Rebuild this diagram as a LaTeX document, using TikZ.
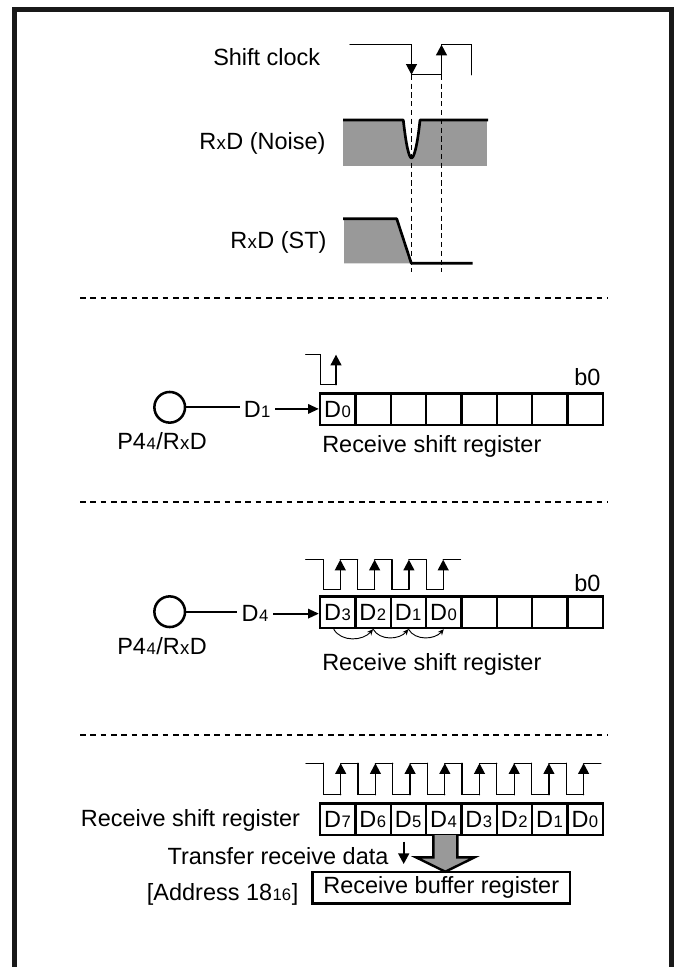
\documentclass[tikz,border=0pt]{standalone}
\usepackage{fontspec}
\setmainfont{Liberation Sans}
\usetikzlibrary{arrows.meta}
\newcommand{\smallch}[1]{\kern0.4pt{\fontsize{12.5}{13}\selectfont #1}\kern0.4pt}
\newcommand{\smallx}{\kern0.3pt{\fontsize{14}{14}\selectfont x}\kern0.3pt}
\tikzset{
  lab/.style={inner sep=0pt,anchor=base west,font=\fontsize{17.6}{20}\selectfont},
  dlab/.style={lab,inner xsep=3pt},
  cell/.style={draw,line width=1.8pt,inner sep=0pt,minimum width=26.5pt,minimum height=23.6pt,font=\fontsize{17.6}{20}\selectfont},
  clk/.style={line width=1pt,line cap=round,line join=miter},
  clkup/.style={clk,-{Triangle[length=8pt,width=8.2pt]}},
  wave/.style={line width=2pt,line join=round},
  sep/.style={line width=1.5pt,dash pattern=on 4.3pt off 3.45pt},
  guide/.style={line width=0.9pt,dash pattern=on 3.9pt off 2.7pt},
  pin/.style={draw,circle,line width=1.9pt,minimum size=23pt,inner sep=0pt},
  wire/.style={line width=1.4pt},
  hop/.style={line width=0.7pt,-{Stealth[length=4.5pt,width=4pt]}},
}
\begin{document}
\begin{tikzpicture}[x=0.75pt,y=-0.75pt]
\useasboundingbox (0,0) rectangle (676,967);
% Frame
\draw[line width=3.75pt,color=black!90] (14.8,967) -- (14.8,9.8) -- (671.3,9.8) -- (671.3,967);
% Timing
\node[lab] (shiftclk) at (213,65.7) {Shift clock};
\node[lab] (rxdnoise) at (199,149) {R\smallx D (Noise)};
\node[lab] (rxdst) at (230,248) {R\smallx D (ST)};
\fill[black!40] (343,120) rectangle (487,165.7);
\fill[white] (403.3,120) .. controls (406,145) and (409,158) .. (411.5,158) .. controls (414,158) and (417.5,145) .. (420,120) -- cycle;
\draw[wave] (343,120) -- (403.3,120) .. controls (406,145) and (409,158) .. (411.5,158) .. controls (414,158) and (417.5,145) .. (420,120) -- (488,120);
\fill[black!40] (344,218.7) -- (396.7,218.7) -- (411.3,263.3) -- (344,263.3) -- cycle;
\draw[wave] (343,218.7) -- (396.7,218.7) -- (411.3,263.3) -- (472.7,263.3);
\draw[clk] (350,44.7) -- (411.5,44.7) -- (411.5,74.7) -- (441.5,74.7) -- (441.5,44.7) -- (471.7,44.7) -- (471.7,74.7);
\draw[clkup] (411.5,44.7) -- (411.5,74.7);
\draw[clkup] (441.5,74.7) -- (441.5,44.7);
\draw[guide] (411.5,74.7) -- (411.5,271.7);
\draw[guide] (441.5,74.7) -- (441.5,271.7);
% Separators
\foreach \y in {298,502,735}
  \draw[sep] (80,\y) -- (608,\y);
% First register
\node[pin] (pina) at (169.7,407.3) {};
\node[lab] (pinlaba) at (117,449.3) {P4\smallch{4}/R\smallx D};
\node[dlab] (da) at (239.5,417) {D\smallch{1}};
\foreach \i/\t in {0/D\smallch{0},1/,2/,3/,4/,5/,6/,7/}
  \node[cell] (ra\i) at ({337.7+35.35*\i},409.2) {\t};
\draw[wire] (pina.east) -- (pina.east -| da.west);
\draw[wire,-{Triangle[length=8pt,width=7pt]}] (da.east) -- (da.east -| ra0.west);
\node[lab] (b0a) at (574,385) {b0};
\node[lab] (namea) at (322,452.7) {Receive shift register};
\draw[clk] (305.7,354.7) -- (320.7,354.7) -- (320.7,384.7) -- (336,384.7);
\draw[clkup] (336,384.7) -- (336,354.7);
% Second register
\node[pin] (pinb) at (169.7,611.7) {};
\node[lab] (pinlabb) at (117,654.3) {P4\smallch{4}/R\smallx D};
\node[dlab] (db) at (237.3,621.7) {D\smallch{4}};
\foreach \i/\t in {0/D\smallch{3},1/D\smallch{2},2/D\smallch{1},3/D\smallch{0},4/,5/,6/,7/}
  \node[cell] (rb\i) at ({337.7+35.35*\i},612.2) {\t};
\draw[wire] (pinb.east) -- (pinb.east -| db.west);
\draw[wire,-{Triangle[length=8pt,width=7pt]}] (db.east) -- (db.east -| rb0.west);
\node[lab] (b0b) at (574,591.7) {b0};
\node[lab] (nameb) at (322,670) {Receive shift register};
\draw[clk] (305.7,559.7) -- (323.3,559.7);
\foreach \k in {0,...,3} {
  \draw[clk] ({323.3+34.3*\k},559.7) -- ({323.3+34.3*\k},589.3) -- ({340.3+34.3*\k},589.3);
  \draw[clkup] ({340.3+34.3*\k},589.3) -- ({340.3+34.3*\k},559.7);
  \draw[clk] ({340.3+34.3*\k},559.7) -- ({357.6+34.3*\k},559.7);
}
\draw[hop] (rb0.south) ++(-4,0) to[out=-60,in=-130] (rb1.south);
\draw[hop] (rb1.south) to[out=-60,in=-130] (rb2.south);
\draw[hop] (rb2.south) to[out=-60,in=-130] (rb3.south);
% Third register
\node[lab] (namec) at (80.7,826.7) {Receive shift register};
\foreach \i/\t in {0/D\smallch{7},1/D\smallch{6},2/D\smallch{5},3/D\smallch{4},4/D\smallch{3},5/D\smallch{2},6/D\smallch{1},7/D\smallch{0}}
  \node[cell] (rc\i) at ({337.7+35.35*\i},819.2) {\t};
\draw[clk] (306,763.3) -- (323.3,763.3);
\foreach \k in {0,...,7} {
  \draw[clk] ({323.3+34.7*\k},763.3) -- ({323.3+34.7*\k},794.7) -- ({340.7+34.7*\k},794.7);
  \draw[clkup] ({340.7+34.7*\k},794.7) -- ({340.7+34.7*\k},763.3);
  \draw[clk] ({340.7+34.7*\k},763.3) -- ({358+34.7*\k},763.3);
}
% Transfer
\node[lab] (transfer) at (167.3,864) {Transfer receive data};
\node[lab] (addr) at (146.7,900) {[Address 18\smallch{16}]};
\node[cell,minimum width=193pt,minimum height=23.3pt] (buffer) at (441.3,887.8) {Receive buffer register};
\coordinate (downa) at (403.7,841.7);
\coordinate (downb) at (403.7,864);
\draw[line width=1.3pt,-{Triangle[length=8pt,width=8.2pt]}] (downa) -- (downb);
\coordinate (bigtop) at (445.3,835);
\coordinate (bigtip) at (445.3,871.7);
\draw[line width=1.8pt,fill=black!40,line join=miter] (bigtop) ++(-12,0) -- ++(0,22.3) -- ++(-17.3,0) -- (bigtip) -- ++(29.3,-14.4) -- ++(-17.3,0) -- ++(0,-22.3);
\end{tikzpicture}
\end{document}
